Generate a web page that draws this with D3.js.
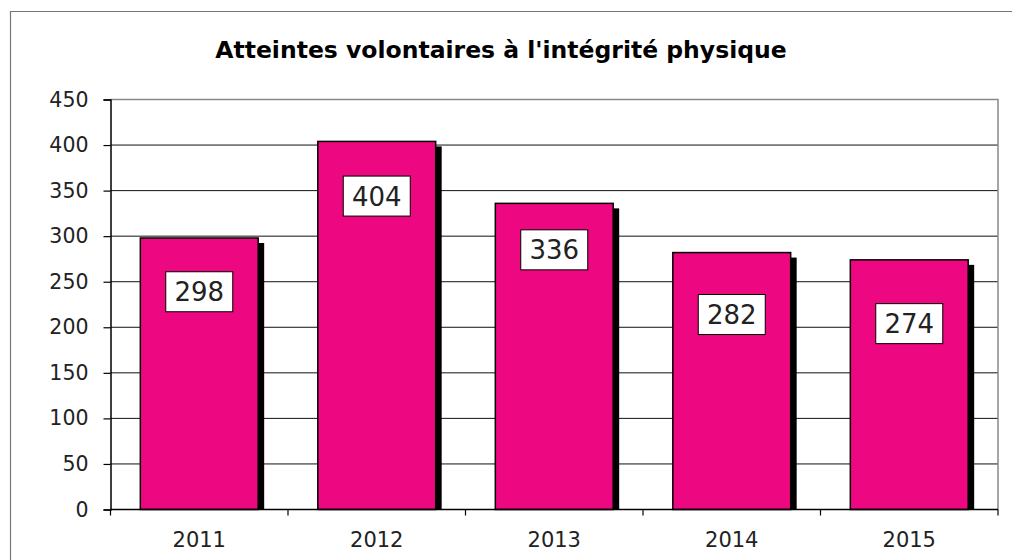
<!DOCTYPE html>
<html>
<head>
<meta charset="utf-8">
<script src="https://cdn.jsdelivr.net/npm/d3@7"></script>
<style>
  body { margin: 0; background: #fff; }
  text { font-family: "DejaVu Sans", Verdana, sans-serif; }
</style>
</head>
<body>
<svg id="chart"></svg>
<script>
const years = ["2011", "2012", "2013", "2014", "2015"];
const values = [298, 404, 336, 282, 274];
// value on the y scale where each label box is centred
const labelAt = [239, 344, 285, 214, 204];
const yTicks = [0, 50, 100, 150, 200, 250, 300, 350, 400, 450];
const title = "Atteintes volontaires à l'intégrité physique";

const svgWidth = 1015, svgHeight = 560;
const plot = {left: 110.5, right: 998, top: 99.5, bottom: 509.5};
const barColor = "#ED0780";

const svg = d3.select("#chart")
    .attr("width", svgWidth)
    .attr("height", svgHeight);

// outer frame (only top and left edges visible)
svg.append("path")
    .attr("d", `M10.5,${svgHeight} V11.5 H1012`)
    .attr("fill", "none")
    .attr("stroke", "#777")
    .attr("stroke-width", 1.2)

svg.append("text")
    .text(title)
    .attr("x", 501)
    .attr("y", 58)
    .attr("text-anchor", "middle")
    .attr("font-size", 23.5)
    .attr("font-weight", "bold")
    .attr("fill", "#000")

const x = d3.scaleBand()
    .domain(years)
    .range([plot.left, plot.right])
    .paddingInner(0.336)
    .paddingOuter(0.168)

const y = d3.scaleLinear()
    .domain([0, 450])
    .range([plot.bottom, plot.top])

// gridlines
svg.append("g")
    .selectAll("line")
    .data(yTicks.slice(1, -1))
    .join("line")
    .attr("x1", plot.left)
    .attr("x2", plot.right)
    .attr("y1", d => y(d))
    .attr("y2", d => y(d))
    .attr("stroke", "#111")
    .attr("stroke-width", 1)

// plot border top/right (gray)
svg.append("path")
    .attr("d", `M${plot.left},${plot.top} H${plot.right} V${plot.bottom}`)
    .attr("fill", "none")
    .attr("stroke", "#888")
    .attr("stroke-width", 1.5)

const bars = svg.append("g")
    .selectAll("g")
    .data(years.map((yr, i) => ({year: yr, value: values[i], label: labelAt[i]})))
    .join("g")

// shadows
bars.append("rect")
    .attr("x", d => x(d.year) + 6)
    .attr("y", d => y(d.value) + 5)
    .attr("width", x.bandwidth())
    .attr("height", d => plot.bottom - y(d.value) - 5)
    .attr("fill", "#000")

bars.append("rect")
    .attr("x", d => x(d.year))
    .attr("y", d => y(d.value))
    .attr("width", x.bandwidth())
    .attr("height", d => plot.bottom - y(d.value))
    .attr("fill", barColor)
    .attr("stroke", "#000")
    .attr("stroke-width", 1.5)

// value boxes
const boxW = 67, boxH = 40;
bars.append("rect")
    .attr("x", d => x(d.year) + x.bandwidth() / 2 - boxW / 2)
    .attr("y", d => y(d.label) - boxH / 2)
    .attr("width", boxW)
    .attr("height", boxH)
    .attr("fill", "#fff")
    .attr("stroke", "#000")
    .attr("stroke-width", 1)

bars.append("text")
    .text(d => d.value)
    .attr("x", d => x(d.year) + x.bandwidth() / 2)
    .attr("y", d => y(d.label) + 9.5)
    .attr("text-anchor", "middle")
    .attr("font-size", 26)
    .attr("fill", "#222")

// y axis
const yAxis = svg.append("g")
    .attr("transform", `translate(${plot.left},0)`)
    .call(d3.axisLeft(y).tickValues(yTicks).tickSize(7).tickPadding(15))
yAxis.select(".domain").attr("stroke", "#000").attr("stroke-width", 1.5)
yAxis.selectAll(".tick line").attr("stroke", "#000").attr("stroke-width", 1.2)
yAxis.selectAll(".tick text")
    .attr("font-size", 20.5)
    .attr("fill", "#222")
    .attr("font-family", "DejaVu Sans, sans-serif")

// x axis: ticks at category boundaries
const step = x.step();
const x0 = x(years[0]) - step * x.paddingOuter();
const xAxis = svg.append("g")
xAxis.append("line")
    .attr("x1", plot.left)
    .attr("x2", plot.right)
    .attr("y1", plot.bottom)
    .attr("y2", plot.bottom)
    .attr("stroke", "#000")
    .attr("stroke-width", 1.5)
xAxis.selectAll("line.tk")
    .data(d3.range(years.length + 1))
    .join("line")
    .attr("class", "tk")
    .attr("x1", i => x0 + i * step)
    .attr("x2", i => x0 + i * step)
    .attr("y1", plot.bottom)
    .attr("y2", plot.bottom + 6)
    .attr("stroke", "#000")
    .attr("stroke-width", 1.2)
xAxis.selectAll("text")
    .data(years)
    .join("text")
    .text(d => d)
    .attr("x", d => x(d) + x.bandwidth() / 2)
    .attr("y", 547)
    .attr("text-anchor", "middle")
    .attr("font-size", 21)
    .attr("fill", "#222")
</script>
</body>
</html>
